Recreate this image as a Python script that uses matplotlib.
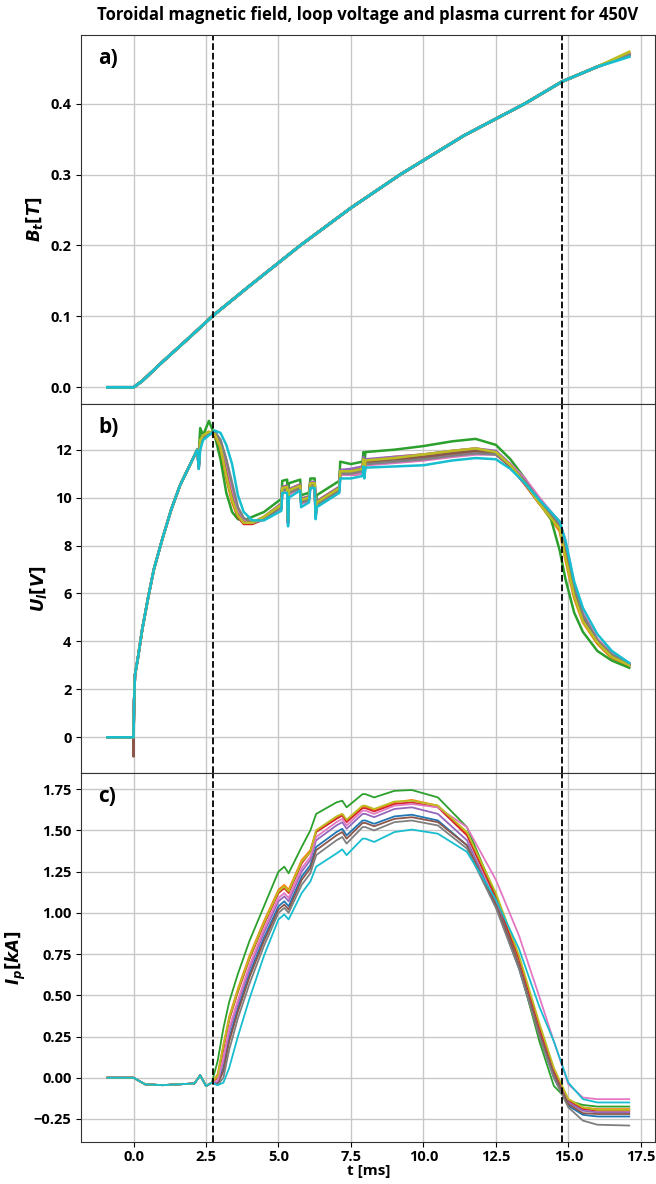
import matplotlib
matplotlib.use("Agg")
import matplotlib.pyplot as plt

plt.rcParams['font.family'] = ['Open Sans', 'DejaVu Sans']
plt.rcParams['font.weight'] = 'bold'
plt.rcParams['mathtext.fontset'] = 'custom'
plt.rcParams['mathtext.it'] = 'DejaVu Sans:italic:bold'
plt.rcParams['mathtext.rm'] = 'DejaVu Sans:bold'
plt.rcParams['mathtext.bf'] = 'DejaVu Sans:bold'

# shots in plotting order (default colour cycle)
shots = ['blue', 'orange', 'green', 'red', 'purple', 'brown', 'pink', 'gray', 'olive', 'cyan']
t_marks = [2.75, 14.78]

# --- a) toroidal magnetic field [T]
bt_t = [-0.9, 0.0, 0.3, 1.0, 2.0, 2.74, 4.0, 5.75, 7.5, 9.2, 11.4, 13.5, 14.78, 16.0]
bt = [0.0, 0.0, 0.009, 0.036, 0.073, 0.101, 0.143, 0.200, 0.253, 0.300, 0.355, 0.400, 0.431, 0.452]
bt_end_t = 17.1
bt_end = [0.468, 0.470, 0.469, 0.469, 0.469, 0.470, 0.470, 0.469, 0.473, 0.466]

# --- b) loop voltage [V]
ul_rise_t = [-0.9, -0.01, 0.0, 0.02, 0.05, 0.15, 0.3, 0.5, 0.7, 1.0, 1.3, 1.6, 2.0, 2.2]
ul_rise = [0.0, 0.0, None, 1.5, 2.6, 3.3, 4.5, 5.8, 7.0, 8.3, 9.5, 10.5, 11.5, 12.0]
ul_t0 = [0.0, 0.0, 0.0, 0.0, 0.0, -0.8, 0.0, 0.0, 0.0, 0.0]
ul_t = [2.25, 2.3, 2.4, 2.6, 2.8, 3.0, 3.2, 3.4, 3.6, 3.8, 4.1, 4.5, 5.1, 5.13, 5.3,
        5.33, 5.36, 5.75, 5.78, 6.05, 6.1, 6.25, 6.28, 6.32, 7.1, 7.13, 7.5, 7.9, 7.93, 7.96,
        8.0, 9.0, 10.0, 11.0, 11.8, 12.5, 13.0, 13.5, 14.0, 14.4, 14.7, 14.9, 15.2, 15.5, 16.0,
        16.5, 17.1]
ul_blue = [11.3, 12.3, 12.6, 12.7, 12.7, 12.2, 11.1, 10.0, 9.3, 9.0, 8.95, 9.15, 9.7, 10.4, 10.45,
           9.0, 10.3, 10.5, 9.9, 10.0, 10.6, 10.6, 9.3, 9.8, 10.4, 11.1, 11.1, 11.2, 11.6, 11.0,
           11.5, 11.6, 11.7, 11.85, 11.95, 11.85, 11.3, 10.6, 9.8, 9.25, 8.8, 7.8, 6.1, 5.0, 4.0,
           3.4, 3.0]
ul_orange = [11.4, 12.4, 12.6, 12.75, 12.6, 12.0, 10.8, 9.8, 9.2, 8.95, 8.95, 9.2, 9.75, 10.45, 10.5,
             9.1, 10.35, 10.55, 9.95, 10.05, 10.65, 10.65, 9.35, 9.85, 10.45, 11.15, 11.15, 11.25, 11.65, 11.05,
             11.55, 11.7, 11.8, 11.95, 12.05, 11.9, 11.35, 10.6, 9.75, 9.1, 8.6, 7.4, 5.8, 4.8, 3.9,
             3.3, 3.0]
ul_green = [11.8, 12.9, 12.6, 13.2, 12.6, 11.6, 10.2, 9.4, 9.1, 9.05, 9.2, 9.4, 9.95, 10.7, 10.75,
            9.3, 10.6, 10.75, 10.1, 10.2, 10.8, 10.8, 9.5, 10.1, 10.7, 11.5, 11.4, 11.5, 11.9, 11.3,
            11.9, 12.0, 12.15, 12.35, 12.45, 12.2, 11.6, 10.8, 9.8, 9.1, 7.8, 6.6, 5.2, 4.4, 3.6,
            3.2, 2.9]
ul_red = [11.3, 12.2, 12.5, 12.7, 12.6, 12.1, 10.9, 9.9, 9.2, 8.9, 8.9, 9.1, 9.55, 10.3, 10.35,
          8.95, 10.2, 10.4, 9.8, 9.9, 10.5, 10.5, 9.2, 9.7, 10.3, 11.0, 10.95, 11.0, 11.45, 10.9,
          11.4, 11.5, 11.6, 11.8, 11.95, 11.8, 11.3, 10.55, 9.75, 9.2, 8.7, 7.6, 5.9, 4.9, 3.95,
          3.35, 3.0]
ul_purple = [11.3, 12.3, 12.6, 12.7, 12.7, 12.3, 11.2, 10.1, 9.35, 9.0, 8.95, 9.2, 9.75, 10.45, 10.5,
             9.05, 10.35, 10.55, 9.95, 10.05, 10.65, 10.65, 9.35, 9.85, 10.45, 11.15, 11.2, 11.3, 11.7, 11.1,
             11.6, 11.7, 11.8, 11.95, 12.05, 11.95, 11.4, 10.7, 9.85, 9.3, 8.9, 8.0, 6.3, 5.1, 4.05,
             3.45, 3.05]
ul_brown = [11.3, 12.3, 12.6, 12.7, 12.75, 12.35, 11.3, 10.2, 9.4, 9.05, 8.95, 9.15, 9.7, 10.4, 10.45,
            9.0, 10.3, 10.5, 9.9, 10.0, 10.6, 10.6, 9.3, 9.8, 10.4, 11.1, 11.1, 11.2, 11.6, 11.0,
            11.5, 11.6, 11.7, 11.85, 11.95, 11.85, 11.35, 10.65, 9.85, 9.3, 8.9, 8.0, 6.2, 5.0, 4.0,
            3.4, 3.0]
ul_pink = [11.2, 12.2, 12.5, 12.65, 12.7, 12.4, 11.5, 10.4, 9.5, 9.1, 8.95, 9.1, 9.55, 10.25, 10.3,
           8.9, 10.15, 10.35, 9.75, 9.85, 10.45, 10.45, 9.15, 9.65, 10.25, 10.95, 10.95, 11.0, 11.45, 10.85,
           11.35, 11.45, 11.55, 11.7, 11.8, 11.8, 11.4, 10.8, 10.0, 9.4, 9.0, 8.2, 6.4, 5.2, 4.1,
           3.5, 3.1]
ul_gray = [11.2, 12.2, 12.5, 12.65, 12.75, 12.4, 11.6, 10.6, 9.6, 9.15, 8.95, 9.1, 9.6, 10.3, 10.35,
           8.95, 10.2, 10.4, 9.8, 9.9, 10.5, 10.5, 9.2, 9.7, 10.3, 11.0, 11.0, 11.1, 11.5, 10.9,
           11.4, 11.5, 11.6, 11.75, 11.85, 11.8, 11.35, 10.7, 9.9, 9.3, 8.9, 8.1, 6.3, 5.1, 4.05,
           3.45, 3.05]
ul_olive = [11.4, 12.4, 12.6, 12.75, 12.65, 12.1, 10.9, 9.9, 9.25, 8.95, 8.95, 9.2, 9.7, 10.4, 10.45,
            9.05, 10.3, 10.5, 9.9, 10.0, 10.6, 10.6, 9.3, 9.8, 10.4, 11.1, 11.1, 11.2, 11.6, 11.0,
            11.55, 11.65, 11.8, 11.95, 12.05, 11.9, 11.35, 10.6, 9.75, 9.15, 8.7, 7.5, 5.9, 4.85, 3.95,
            3.35, 3.0]
ul_cyan = [11.2, 12.0, 12.4, 12.6, 12.8, 12.7, 12.2, 11.4, 10.1, 9.4, 9.05, 9.05, 9.45, 10.2, 10.2,
           8.8, 10.0, 10.3, 9.6, 9.8, 10.4, 10.4, 9.1, 9.6, 10.2, 10.8, 10.8, 10.9, 11.3, 10.8,
           11.25, 11.3, 11.35, 11.55, 11.65, 11.6, 11.2, 10.6, 9.9, 9.4, 9.0, 8.2, 6.5, 5.4, 4.3,
           3.6, 3.1]
ul_shots = [ul_blue, ul_orange, ul_green, ul_red, ul_purple, ul_brown, ul_pink, ul_gray, ul_olive, ul_cyan]

# --- c) plasma current [kA]
ip_pre_t = [-0.9, 0.0, 0.4, 1.0, 2.1, 2.3, 2.5, 2.7]
ip_pre = [0.0, 0.0, -0.04, -0.045, -0.035, 0.015, -0.05, -0.03]
ip_t = [2.9, 3.1, 3.3, 3.6, 4.0, 4.5, 5.0, 5.2, 5.35, 5.8, 6.1, 6.3, 7.0, 7.2, 7.35,
        7.9, 8.0, 8.3, 9.0, 9.6, 10.5, 11.5, 12.5, 13.3, 14.0, 14.5, 15.0, 15.5, 16.0, 17.1]
ip_blue = [-0.04, 0.06, 0.24, 0.42, 0.63, 0.85, 1.04, 1.07, 1.04, 1.22, 1.29, 1.40, 1.49, 1.51, 1.47,
           1.56, 1.56, 1.54, 1.585, 1.595, 1.56, 1.41, 1.04, 0.66, 0.25, 0.0, -0.17, -0.225, -0.235, -0.235]
ip_orange = [0.02, 0.20, 0.37, 0.54, 0.74, 0.95, 1.14, 1.17, 1.14, 1.32, 1.38, 1.50, 1.58, 1.60, 1.56,
             1.645, 1.645, 1.625, 1.67, 1.685, 1.65, 1.48, 1.10, 0.72, 0.30, 0.03, -0.13, -0.18, -0.19, -0.19]
ip_green = [0.10, 0.30, 0.46, 0.63, 0.83, 1.04, 1.25, 1.28, 1.24, 1.40, 1.50, 1.60, 1.67, 1.68, 1.64,
            1.72, 1.72, 1.70, 1.74, 1.745, 1.70, 1.52, 1.10, 0.68, 0.22, -0.05, -0.14, -0.165, -0.175, -0.175]
ip_red = [0.0, 0.17, 0.35, 0.52, 0.72, 0.93, 1.12, 1.15, 1.12, 1.30, 1.37, 1.49, 1.57, 1.59, 1.55,
          1.635, 1.635, 1.615, 1.66, 1.67, 1.64, 1.47, 1.09, 0.72, 0.30, 0.04, -0.14, -0.19, -0.20, -0.20]
ip_purple = [-0.03, 0.10, 0.28, 0.45, 0.66, 0.88, 1.07, 1.10, 1.07, 1.25, 1.32, 1.44, 1.53, 1.55, 1.51,
             1.60, 1.60, 1.58, 1.63, 1.64, 1.60, 1.44, 1.06, 0.68, 0.27, 0.02, -0.15, -0.20, -0.21, -0.21]
ip_brown = [-0.04, 0.04, 0.22, 0.40, 0.61, 0.83, 1.02, 1.05, 1.02, 1.20, 1.27, 1.38, 1.47, 1.49, 1.45,
            1.545, 1.545, 1.525, 1.57, 1.58, 1.55, 1.41, 1.05, 0.68, 0.27, 0.02, -0.16, -0.215, -0.22, -0.22]
ip_pink = [-0.02, 0.12, 0.30, 0.47, 0.68, 0.90, 1.09, 1.12, 1.09, 1.27, 1.34, 1.46, 1.55, 1.57, 1.53,
           1.62, 1.62, 1.60, 1.65, 1.66, 1.64, 1.52, 1.20, 0.86, 0.49, 0.22, -0.04, -0.12, -0.13, -0.13]
ip_gray = [-0.045, 0.0, 0.17, 0.36, 0.57, 0.80, 1.00, 1.03, 1.00, 1.17, 1.24, 1.35, 1.44, 1.46, 1.42,
           1.52, 1.52, 1.50, 1.55, 1.56, 1.53, 1.39, 1.03, 0.66, 0.25, 0.0, -0.18, -0.26, -0.285, -0.29]
ip_olive = [0.01, 0.19, 0.36, 0.53, 0.73, 0.94, 1.13, 1.16, 1.13, 1.31, 1.37, 1.50, 1.585, 1.60, 1.565,
            1.65, 1.65, 1.63, 1.675, 1.68, 1.65, 1.49, 1.12, 0.74, 0.33, 0.06, -0.13, -0.18, -0.195, -0.195]
ip_cyan = [-0.045, -0.03, 0.06, 0.25, 0.48, 0.74, 0.96, 0.99, 0.96, 1.12, 1.19, 1.28, 1.36, 1.385, 1.35,
           1.45, 1.45, 1.43, 1.49, 1.505, 1.48, 1.37, 1.08, 0.78, 0.43, 0.22, -0.03, -0.13, -0.15, -0.15]
ip_shots = [ip_blue, ip_orange, ip_green, ip_red, ip_purple, ip_brown, ip_pink, ip_gray, ip_olive, ip_cyan]

fig, axes = plt.subplots(3, 1, sharex=True, figsize=(6.56, 11.84), dpi=100,
                         gridspec_kw=dict(hspace=0))
fig.subplots_adjust(left=0.124, right=0.999, bottom=0.0352, top=0.9704)
ax_a, ax_b, ax_c = axes

for i, name in enumerate(shots):
    c = 'tab:' + name
    ax_a.plot(bt_t + [bt_end_t], bt + [bt_end[i]], color=c, lw=2.0)
    rise = list(ul_rise)
    rise[2] = ul_t0[i]
    ax_b.plot(ul_rise_t + ul_t, rise + ul_shots[i], color=c, lw=1.8)
    ax_c.plot(ip_pre_t + ip_t, ip_pre + ip_shots[i], color=c, lw=1.3)

for ax, letter in zip(axes, ['a)', 'b)', 'c)']):
    for tm in t_marks:
        ax.axvline(tm, color='black', ls='--', lw=1.3)
    ax.grid(True, color='#c8c8c8', lw=1.0)
    ax.set_axisbelow(True)
    ax.text(0.03, 0.937, letter, transform=ax.transAxes, fontsize=15,
            fontweight='bold', ha='left', va='center')
    ax.tick_params(labelsize=10.5)
    for sp in ax.spines.values():
        sp.set_color('#333333')

ax_a.tick_params(axis='x', bottom=False)
ax_b.tick_params(axis='x', bottom=False)
ax_c.tick_params(axis='x', pad=2)

ax_a.set_yticks([0.0, 0.1, 0.2, 0.3, 0.4])
ax_b.set_yticks([0, 2, 4, 6, 8, 10, 12])
ax_c.set_yticks([-0.25, 0.0, 0.25, 0.5, 0.75, 1.0, 1.25, 1.5, 1.75])

ax_a.set_ylabel('$B_t[T]$', fontsize=12)
ax_b.set_ylabel('$U_l[V]$', fontsize=12)
ax_c.set_ylabel('$I_p[kA]$', fontsize=12)
ax_c.set_xlabel('t [ms]', fontsize=11, fontweight='bold', labelpad=0)

fig.text(0.56, 0.987, 'Toroidal magnetic field, loop voltage and plasma current for 450V',
         ha='center', va='center', fontsize=12, fontweight='bold')

fig.savefig('out.png', dpi=100)
